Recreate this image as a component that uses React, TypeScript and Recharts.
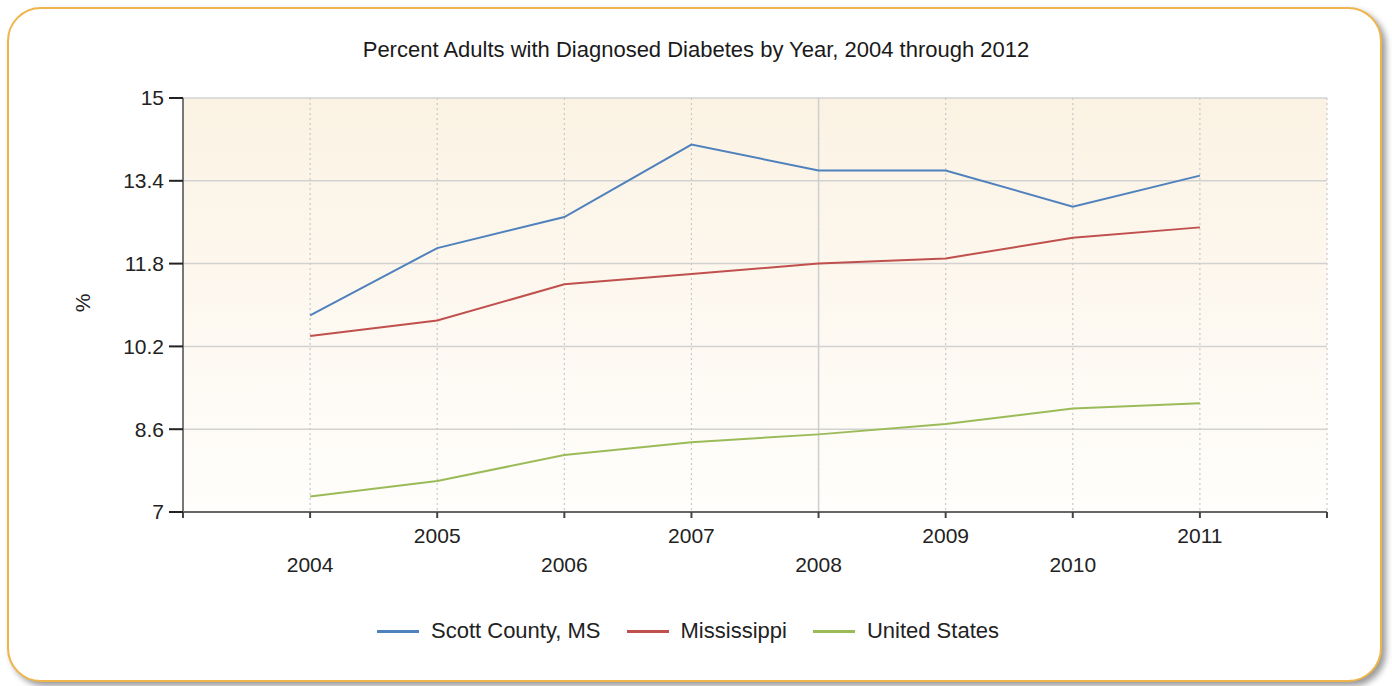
import React from 'react';
import { LineChart, Line, XAxis, YAxis, CartesianGrid, ReferenceLine } from 'recharts';

const years = [2004, 2005, 2006, 2007, 2008, 2009, 2010, 2011];
const scottCounty = [10.8, 12.1, 12.7, 14.1, 13.6, 13.6, 12.9, 13.5];
const mississippi = [10.4, 10.7, 11.4, 11.6, 11.8, 11.9, 12.3, 12.5];
const unitedStates = [7.3, 7.6, 8.1, 8.35, 8.5, 8.7, 9.0, 9.1];
const yTicks = [7, 8.6, 10.2, 11.8, 13.4, 15];
const xTicks = [2003, 2004, 2005, 2006, 2007, 2008, 2009, 2010, 2011, 2012];
const seriesNames = ['Scott County, MS', 'Mississippi', 'United States'];
const title = 'Percent Adults with Diagnosed Diabetes by Year, 2004 through 2012';

const colors = ['#4f81bd', '#c0504d', '#9bbb59'];
const keys = ['scott', 'ms', 'us'];

const data = years.map((y, i) => ({
  year: y,
  scott: scottCounty[i],
  ms: mississippi[i],
  us: unitedStates[i],
}));

const W = 1392;
const H = 686;
const FONT = '"Liberation Sans", Arial, sans-serif';

const XTick = (props: any) => {
  const { x, y, payload } = props;
  const v = payload.value;
  if (!years.includes(v)) return null;
  const upper = v % 2 === 1;
  return (
    <text
      x={x}
      y={y + (upper ? 15 : 44)}
      textAnchor="middle"
      dominantBaseline="central"
      fontSize={21}
      fontFamily={FONT}
      fill="#222"
    >
      {v}
    </text>
  );
};

export default function App() {
  return (
    <div style={{ position: 'absolute', left: 0, top: 0, width: W, height: H, background: '#fff', fontFamily: FONT }}>
      <div
        style={{
          position: 'absolute',
          left: 7,
          top: 7,
          width: 1371,
          height: 671,
          border: '2px solid #efb54a',
          borderRadius: 34,
          boxShadow: '4px 4px 6px rgba(0,0,0,0.4)',
          background: '#fff',
        }}
      />
      <div
        style={{
          position: 'absolute',
          left: 0,
          top: 37,
          width: W,
          textAlign: 'center',
          fontSize: 22,
          lineHeight: '26px',
          color: '#1a1a1a',
        }}
      >
        {title}
      </div>
      <div style={{ position: 'absolute', left: 0, top: 0 }}>
        <LineChart width={W} height={H} data={data} margin={{ top: 98, right: 65, bottom: 114, left: 0 }}>
          <defs>
            <linearGradient id="plotBg" x1="0" y1="0" x2="0" y2="1">
              <stop offset="0" stopColor="#fbf2e3" />
              <stop offset="1" stopColor="#fffefc" />
            </linearGradient>
          </defs>
          <CartesianGrid horizontal={true} vertical={false} stroke="#d2d2d2" strokeWidth={1.5} fill="url(#plotBg)" fillOpacity={1} />
          <CartesianGrid horizontal={false} vertical={true} stroke="#c8c8c8" strokeWidth={1.2} strokeDasharray="2 3" />
          <ReferenceLine x={2008} stroke="#cfcfcf" strokeWidth={1.5} />
          <XAxis
            dataKey="year"
            type="number"
            domain={[2003, 2012]}
            ticks={xTicks}
            interval={0}
            height={60}
            tick={<XTick />}
            tickSize={6}
            axisLine={{ stroke: '#666', strokeWidth: 2 }}
            tickLine={{ stroke: '#444', strokeWidth: 2 }}
            allowDataOverflow
          />
          <YAxis
            type="number"
            domain={[7, 15]}
            ticks={yTicks}
            interval={0}
            width={183}
            tickSize={14}
            tickMargin={5}
            axisLine={{ stroke: '#777', strokeWidth: 2 }}
            tickLine={{ stroke: '#222', strokeWidth: 2 }}
            tick={{ fontSize: 21, fill: '#222', fontFamily: FONT }}
            allowDataOverflow
            label={{
              content: () => (
                <text x={82} y={303} transform="rotate(-90 82 303)" textAnchor="middle" dominantBaseline="central" fontSize={21} fill="#222" fontFamily={FONT}>
                  %
                </text>
              ),
            }}
          />
          {keys.map((k, i) => (
            <Line key={k} type="linear" dataKey={k} name={seriesNames[i]} stroke={colors[i]} strokeWidth={2} dot={false} activeDot={false} isAnimationActive={false} />
          ))}
        </LineChart>
      </div>
      <div
        style={{
          position: 'absolute',
          left: 0,
          top: 617,
          width: W - 16,
          display: 'flex',
          justifyContent: 'center',
          alignItems: 'center',
          gap: 26,
          fontSize: 22,
          color: '#222',
          lineHeight: '28px',
        }}
      >
        {seriesNames.map((n, i) => (
          <div key={n} style={{ display: 'flex', alignItems: 'center', gap: 12 }}>
            <div style={{ width: 42, height: 3, background: colors[i] }} />
            <span>{n}</span>
          </div>
        ))}
      </div>
    </div>
  );
}
